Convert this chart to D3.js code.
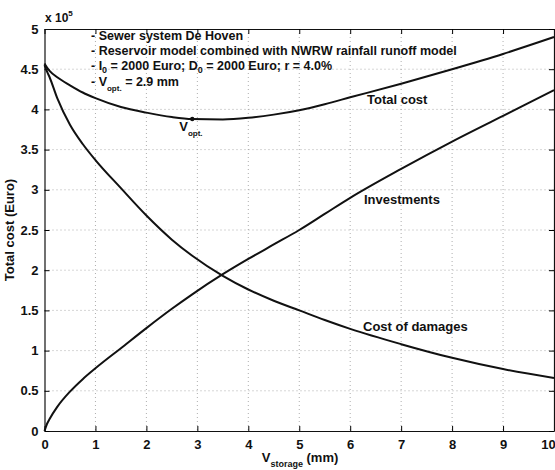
<!DOCTYPE html>
<html>
<head>
<meta charset="utf-8">
<script src="https://cdn.jsdelivr.net/npm/d3@7"></script>
<style>
  html, body { margin: 0; padding: 0; background: #fff; }
  svg { display: block; font-family: "Liberation Sans", Arial, sans-serif; }
</style>
</head>
<body>
<svg id="chart" width="555" height="470"></svg>
<script>
// Storage volume (mm) at which each cost was evaluated
const storage = [0, 0.05, 0.1, 0.25, 0.5, 0.75, 1, 1.5, 2, 2.5, 2.9, 3.5, 4, 4.5, 5, 5.5, 6, 7, 8, 9, 10];
// Costs in units of 1e5 Euro
const investments = [0, 0.09, 0.15, 0.30, 0.49, 0.645, 0.78, 1.03, 1.28, 1.52, 1.70, 1.95, 2.14, 2.32, 2.50, 2.70, 2.90, 3.26, 3.60, 3.92, 4.24];
const damages = [4.55, 4.47, 4.40, 4.14, 3.81, 3.57, 3.37, 3.02, 2.68, 2.38, 2.18, 1.93, 1.76, 1.62, 1.50, 1.38, 1.27, 1.08, 0.91, 0.77, 0.66];
const totalCost = [4.57, 4.52, 4.48, 4.40, 4.30, 4.21, 4.14, 4.03, 3.96, 3.905, 3.88, 3.875, 3.895, 3.935, 3.99, 4.065, 4.15, 4.32, 4.50, 4.69, 4.90];
const xTicks = [0, 1, 2, 3, 4, 5, 6, 7, 8, 9, 10];
const yTicks = [0, 0.5, 1, 1.5, 2, 2.5, 3, 3.5, 4, 4.5, 5];
const vOpt = 2.9;
const vOptCost = 3.88;
const notes = [
  "- Sewer system De Hoven",
  "- Reservoir model combined with NWRW rainfall runoff model"
];

const svg = d3.select("#chart");
const plotL = 44.5, plotR = 554, plotT = 29, plotB = 431;

const x = d3.scaleLinear().domain([0, 10]).range([plotL, plotR]);
const y = d3.scaleLinear().domain([0, 5]).range([plotB, plotT]);

// dotted grid
const grid = svg.append("g").attr("stroke", "#999").attr("stroke-width", 0.8)
  .attr("stroke-dasharray", "1,3");
grid.selectAll(".gx").data(xTicks.slice(1, -1)).join("line")
  .attr("x1", d => x(d)).attr("x2", d => x(d)).attr("y1", plotT).attr("y2", plotB);
grid.selectAll(".gy").data(yTicks.slice(1, -1)).join("line")
  .attr("x1", plotL).attr("x2", plotR).attr("y1", d => y(d)).attr("y2", d => y(d));

// axes with inward ticks on all four sides
const fmt = d => d3.format("")(d);
const tickFont = g => g.selectAll("text").attr("font-size", 13).attr("font-weight", "bold").attr("fill", "#111");
svg.append("g").attr("transform", `translate(0,${plotB})`)
  .call(d3.axisBottom(x).tickValues(xTicks).tickFormat(fmt).tickSizeInner(-5).tickSizeOuter(0).tickPadding(9))
  .call(g => g.select(".domain").attr("stroke", "#111").attr("stroke-width", 1.2))
  .call(tickFont)
  // keep the last label inside the page edge
  .call(g => g.selectAll(".tick text").filter(d => d === 10).attr("dx", -6));
svg.append("g").attr("transform", `translate(${plotL},0)`)
  .call(d3.axisLeft(y).tickValues(yTicks).tickFormat(fmt).tickSizeInner(-5).tickSizeOuter(0).tickPadding(6))
  .call(g => g.select(".domain").attr("stroke", "#111").attr("stroke-width", 1.2))
  .call(tickFont);
svg.append("g").attr("transform", `translate(0,${plotT})`)
  .call(d3.axisTop(x).tickValues(xTicks).tickFormat("").tickSizeInner(-5).tickSizeOuter(0))
  .call(g => g.select(".domain").attr("stroke", "#111").attr("stroke-width", 1.2));
svg.append("g").attr("transform", `translate(${plotR},0)`)
  .call(d3.axisRight(y).tickValues(yTicks).tickFormat("").tickSizeInner(-5).tickSizeOuter(0))
  .call(g => g.select(".domain").attr("stroke", "#111").attr("stroke-width", 1.2));

// cost curves
const line = d3.line().x(d => x(d[0])).y(d => y(d[1])).curve(d3.curveMonotoneX);
[investments, damages, totalCost].forEach(series => {
  svg.append("path")
    .datum(storage.map((s, i) => [s, series[i]]))
    .attr("d", line)
    .attr("fill", "none").attr("stroke", "#111").attr("stroke-width", 2);
});

// optimum marker
svg.append("circle").attr("cx", x(vOpt)).attr("cy", y(vOptCost)).attr("r", 2.2).attr("fill", "#111");
const vo = svg.append("text").attr("x", x(vOpt) - 13).attr("y", y(vOptCost) + 12)
  .attr("font-size", 13).attr("font-weight", "bold").attr("fill", "#111");
vo.append("tspan").text("V");
vo.append("tspan").attr("dy", 5).attr("font-size", 8).text("opt.");

// curve labels
const label = (t, lx, ly) => svg.append("text").attr("x", lx).attr("y", ly)
  .attr("font-size", 13).attr("font-weight", "bold").attr("fill", "#111").text(t);
label("Total cost", 367, 104);
label("Investments", 364, 204);
label("Cost of damages", 363, 331);

// annotation block
const nx = 91, nfs = 12.5;
notes.forEach((t, i) => {
  svg.append("text").attr("x", nx).attr("y", 40 + i * 14.5)
    .attr("font-size", nfs).attr("font-weight", "bold").attr("fill", "#111").text(t);
});
const l3 = svg.append("text").attr("x", nx).attr("y", 69.5)
  .attr("font-size", nfs).attr("font-weight", "bold").attr("fill", "#111");
l3.append("tspan").text("- I");
l3.append("tspan").attr("dy", 3).attr("font-size", 9).text("0");
l3.append("tspan").attr("dy", -3).text(" = 2000 Euro; D");
l3.append("tspan").attr("dy", 3).attr("font-size", 9).text("0");
l3.append("tspan").attr("dy", -3).text(" = 2000 Euro; r = 4.0%");
const l4 = svg.append("text").attr("x", nx).attr("y", 86)
  .attr("font-size", nfs).attr("font-weight", "bold").attr("fill", "#111");
l4.append("tspan").text("- V");
l4.append("tspan").attr("dy", 5).attr("font-size", 8).text("opt.");
l4.append("tspan").attr("dy", -5).text(" = 2.9 mm");

// exponent note
const ex = svg.append("text").attr("x", 45).attr("y", 22)
  .attr("font-size", 12).attr("font-weight", "bold").attr("fill", "#111");
ex.append("tspan").text("x 10");
ex.append("tspan").attr("dy", -6).attr("font-size", 8).text("5");

// axis titles
const xl = svg.append("text").attr("x", 300).attr("y", 462).attr("text-anchor", "middle")
  .attr("font-size", 13).attr("font-weight", "bold").attr("fill", "#111");
xl.append("tspan").text("V");
xl.append("tspan").attr("dy", 5).attr("font-size", 9).text("storage");
xl.append("tspan").attr("dy", -5).text(" (mm)");
svg.append("text").attr("transform", `translate(14,${(plotT + plotB) / 2}) rotate(-90)`)
  .attr("text-anchor", "middle").attr("font-size", 13).attr("font-weight", "bold").attr("fill", "#111")
  .text("Total cost (Euro)");
</script>
</body>
</html>
